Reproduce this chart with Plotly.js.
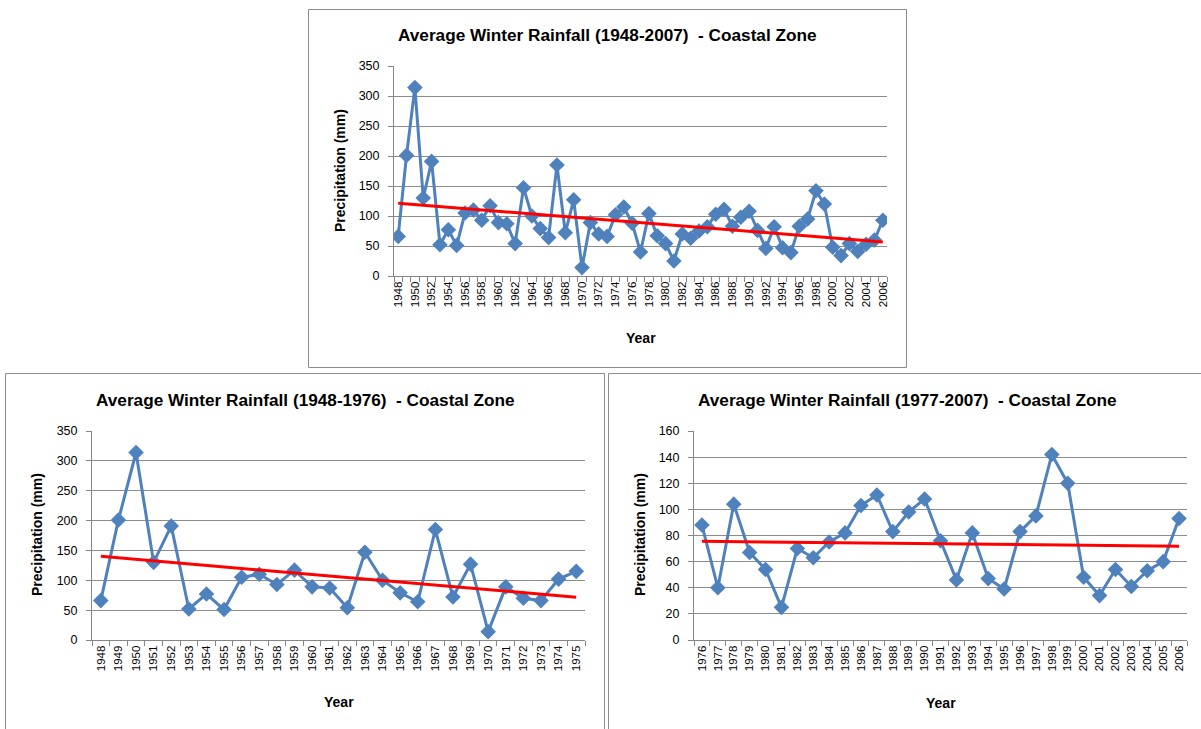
<!DOCTYPE html>
<html>
<head>
<meta charset="utf-8">
<script src="https://cdn.plot.ly/plotly-3.0.1.min.js"></script>
<style>
html,body{margin:0;padding:0;background:#fff;}
#chart{width:1201px;height:729px;}
</style>
</head>
<body>
<div id="chart"></div>
<script>
// ---- Data ----
const yearsEarly = [1948,1949,1950,1951,1952,1953,1954,1955,1956,1957,1958,1959,1960,1961,1962,1963,1964,1965,1966,1967,1968,1969,1970,1971,1972,1973,1974,1975];
const rainEarly  = [66,201,314,130,191,52,77,51,105,110,93,117,89,87,54,147,100,79,64,185,72,127,14,89,70,66,102,115];

const yearsLate = [1976,1977,1978,1979,1980,1981,1982,1983,1984,1985,1986,1987,1988,1989,1990,1991,1992,1993,1994,1995,1996,1997,1998,1999,2000,2001,2002,2003,2004,2005,2006];
const rainLate  = [88,40,104,67,54,25,70,63,75,82,103,111,83,98,108,76,46,82,47,39,83,95,142,120,48,34,54,41,53,60,93];

const titleAll   = "Average Winter Rainfall (1948-2007)  - Coastal Zone";
const titleEarly = "Average Winter Rainfall (1948-1976)  - Coastal Zone";
const titleLate  = "Average Winter Rainfall (1977-2007)  - Coastal Zone";
const yTitle = "Precipitation (mm)";
const xTitle = "Year";

const yearsAll = yearsEarly.concat(yearsLate);
const rainAll  = rainEarly.concat(rainLate);

// least-squares linear trend (Excel-style trendline)
function trend(xs, ys){
  const n = xs.length;
  let sx=0, sy=0, sxx=0, sxy=0;
  for(let i=0;i<n;i++){ sx+=xs[i]; sy+=ys[i]; sxx+=xs[i]*xs[i]; sxy+=xs[i]*ys[i]; }
  const b = (n*sxy - sx*sy)/(n*sxx - sx*sx);
  const a = (sy - b*sx)/n;
  return [a + b*xs[0], a + b*xs[n-1]];
}

const W = 1201, H = 729;
const FONT = "Liberation Sans, Arial, sans-serif";
const blue = "#4F81BD";

function seriesTraces(xs, ys, xa, ya){
  const tr = trend(xs, ys);
  return [
    {x: xs, y: ys, xaxis: xa, yaxis: ya, type: 'scatter', mode: 'lines+markers',
     line: {color: blue, width: 3}, marker: {symbol: 'diamond', size: 12, color: blue},
     hoverinfo: 'x+y', showlegend: false},
    {x: [xs[0], xs[xs.length-1]], y: tr, xaxis: xa, yaxis: ya, type: 'scatter', mode: 'lines',
     line: {color: '#FF0000', width: 3}, hoverinfo: 'skip', showlegend: false}
  ];
}

const traces = [].concat(
  seriesTraces(yearsAll, rainAll, 'x', 'y'),
  seriesTraces(yearsEarly, rainEarly, 'x2', 'y2'),
  seriesTraces(yearsLate, rainLate, 'x3', 'y3')
);

function px(x){ return x/W; }
function py(y){ return 1 - y/H; }

function xAxis(years, step, domain, anchor){
  const labels = years.filter((y,i)=> i % step === 0);
  return {
    domain: domain, anchor: anchor,
    range: [years[0]-0.5, years[years.length-1]+0.5],
    tickmode: 'array', tickvals: labels, ticktext: labels.map(String),
    tickangle: -90, ticks: '', showgrid: false,
    tickfont: {family: FONT, size: 11.5, color: '#000'},
    showline: true, linecolor: '#868686', linewidth: 1, zeroline: false,
    minor: {tick0: years[0]-0.5, dtick: 1, ticks: 'outside', ticklen: 5, tickcolor: '#868686', showgrid: false},
    fixedrange: true
  };
}
function yAxis(maxv, dtick, domain, anchor){
  return {
    domain: domain, anchor: anchor,
    range: [0, maxv], dtick: dtick, tick0: 0,
    ticks: 'outside', ticklen: 5, tickcolor: '#868686',
    ticklabelstandoff: 6,
    showgrid: true, gridcolor: '#8C8C8C', gridwidth: 1,
    showline: true, linecolor: '#868686', linewidth: 1, zeroline: false,
    tickfont: {family: FONT, size: 12.5, color: '#000'},
    fixedrange: true
  };
}

const d1x = [px(394), px(887)], d1y = [py(276), py(66)];
const d2x = [px(92), px(585)],  d2y = [py(640), py(431)];
const d3x = [px(694), px(1187)], d3y = [py(640), py(431)];

const titleFont = {family: FONT, size: 17.2, color: '#000', weight: 'bold'};
const axTitleFont = {family: FONT, size: 14, color: '#000', weight: 'bold'};

function ann(text, x, y, font, angle){
  return {text: text, x: px(x), y: py(y), xref: 'paper', yref: 'paper',
          showarrow: false, font: font, textangle: angle || 0, xanchor: 'center', yanchor: 'middle'};
}

const layout = {
  width: W, height: H,
  margin: {l: 0, r: 0, t: 0, b: 0},
  paper_bgcolor: '#fff', plot_bgcolor: '#fff',
  showlegend: false,
  xaxis: xAxis(yearsAll, 2, d1x, 'y'),
  yaxis: yAxis(350, 50, d1y, 'x'),
  xaxis2: xAxis(yearsEarly, 1, d2x, 'y2'),
  yaxis2: yAxis(350, 50, d2y, 'x2'),
  xaxis3: xAxis(yearsLate, 1, d3x, 'y3'),
  yaxis3: yAxis(160, 20, d3y, 'x3'),
  shapes: [
    {type: 'rect', xref: 'paper', yref: 'paper', x0: px(308.5), x1: px(906.5), y0: py(367.5), y1: py(9.5), line: {color: '#8C8C8C', width: 1}},
    {type: 'rect', xref: 'paper', yref: 'paper', x0: px(5.5), x1: px(604.5), y0: py(740), y1: py(373.5), line: {color: '#8C8C8C', width: 1}},
    {type: 'rect', xref: 'paper', yref: 'paper', x0: px(608.5), x1: px(1210), y0: py(740), y1: py(373.5), line: {color: '#8C8C8C', width: 1}}
  ],
  annotations: [
    ann(titleAll, 607, 35, titleFont),
    ann(titleEarly, 305, 400, titleFont),
    ann(titleLate, 907, 400, titleFont),
    ann(yTitle, 340, 171, axTitleFont, -90),
    ann(yTitle, 37, 535, axTitleFont, -90),
    ann(yTitle, 640, 535, axTitleFont, -90),
    ann(xTitle, 641, 338, axTitleFont),
    ann(xTitle, 339, 702, axTitleFont),
    ann(xTitle, 941, 703, axTitleFont)
  ]
};

Plotly.newPlot('chart', traces, layout, {staticPlot: true, displayModeBar: false});
</script>
</body>
</html>
